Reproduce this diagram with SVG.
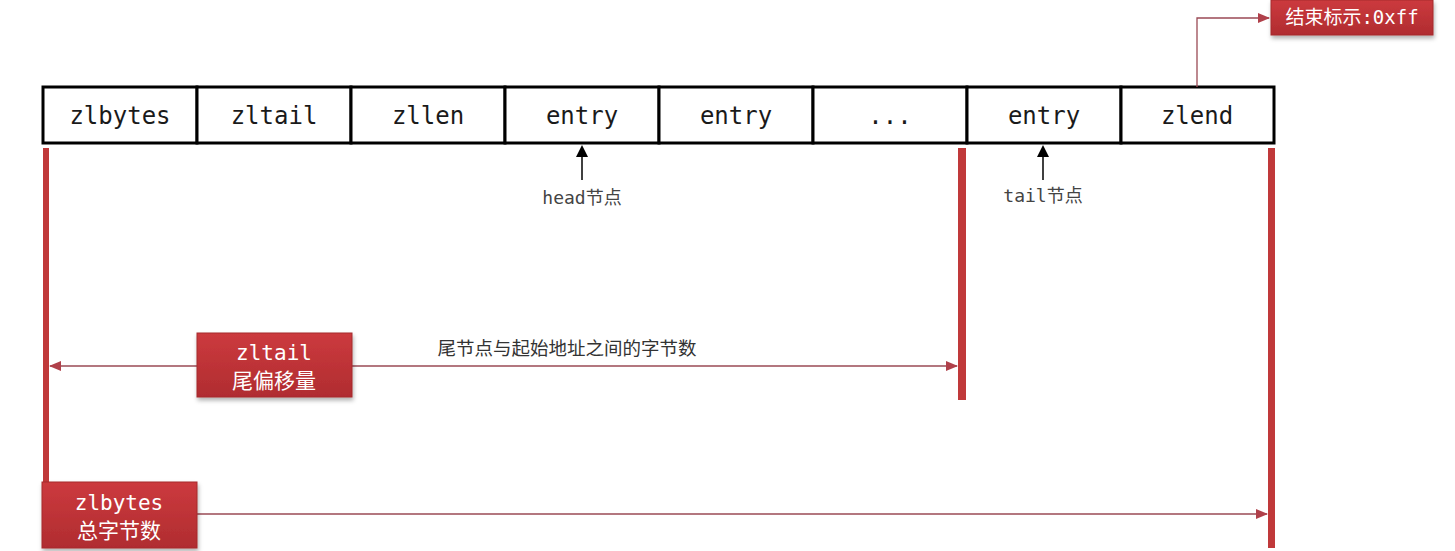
<svg xmlns="http://www.w3.org/2000/svg" width="1455" height="551" viewBox="0 0 1455 551">
<defs>
<style>
.cell{fill:#fff;stroke:#000;stroke-width:3}
.mono{font-family:"DejaVu Sans Mono","Liberation Mono","Noto Sans CJK SC",monospace}
.ct{font-size:24px;fill:#1a1a1a;text-anchor:middle}
.sm{font-size:18px;fill:#444;text-anchor:middle}
.rb{fill:#c43438;stroke:#a52a2c;stroke-width:1}
.bar{fill:#c0393a}
.wt{font-size:21px;fill:#fff;text-anchor:middle}
.conn{stroke:#9a4a55;stroke-width:1.3;fill:none}
.blk{stroke:#000;stroke-width:1.5;fill:none}
</style>
<linearGradient id="rg" x1="0" y1="0" x2="0" y2="1"><stop offset="0" stop-color="#cc3a3e"/><stop offset="1" stop-color="#b02c30"/></linearGradient>
<marker id="ra" markerWidth="12" markerHeight="10" refX="11" refY="5" orient="auto" markerUnits="userSpaceOnUse"><path d="M0,0 L12,5 L0,10 Z" fill="#b0404a"/></marker>
<marker id="bk" markerWidth="12" markerHeight="12" refX="10" refY="6" orient="auto" markerUnits="userSpaceOnUse"><path d="M0,0 L12,6 L0,12 Z" fill="#000"/></marker>
<filter id="sh" x="-10%" y="-10%" width="130%" height="140%"><feDropShadow dx="1" dy="3" stdDeviation="2" flood-color="#000" flood-opacity="0.3"/></filter>
</defs>
<rect width="1455" height="551" fill="#fff"/>
<g id="bars">
<rect class="bar" x="43" y="148" width="6" height="340"/>
<rect class="bar" x="958" y="148" width="8" height="252"/>
<rect class="bar" x="1268" y="148" width="7" height="400"/>
</g>
<g id="row">
<g id="n-zlbytes"><rect class="cell" x="43" y="87" width="154" height="56"/><text class="mono ct" x="120" y="124">zlbytes</text></g>
<g id="n-zltail"><rect class="cell" x="197" y="87" width="154" height="56"/><text class="mono ct" x="274" y="124">zltail</text></g>
<g id="n-zllen"><rect class="cell" x="351" y="87" width="154" height="56"/><text class="mono ct" x="428" y="124">zllen</text></g>
<g id="n-entry1"><rect class="cell" x="505" y="87" width="154" height="56"/><text class="mono ct" x="582" y="124">entry</text></g>
<g id="n-entry2"><rect class="cell" x="659" y="87" width="154" height="56"/><text class="mono ct" x="736" y="124">entry</text></g>
<g id="n-dots"><rect class="cell" x="813" y="87" width="154" height="56"/><text class="mono ct" x="890" y="124">...</text></g>
<g id="n-entry3"><rect class="cell" x="967" y="87" width="154" height="56"/><text class="mono ct" x="1044" y="124">entry</text></g>
<g id="n-zlend"><rect class="cell" x="1121" y="87" width="153" height="56"/><text class="mono ct" x="1197" y="124">zlend</text></g>
</g>
<g id="connectors">
<line class="blk" x1="582" y1="180" x2="582" y2="147" marker-end="url(#bk)"/>
<line class="blk" x1="1043" y1="180" x2="1043" y2="147" marker-end="url(#bk)"/>
<polyline class="conn" points="1197,87 1197,18 1269,18" marker-end="url(#ra)"/>
<line class="conn" x1="197" y1="366" x2="50" y2="366" marker-end="url(#ra)"/>
<line class="conn" x1="352" y1="366" x2="957" y2="366" marker-end="url(#ra)"/>
<line class="conn" x1="197" y1="514" x2="1267" y2="514" marker-end="url(#ra)"/>
</g>
<g id="labels">
<text class="mono sm" x="582" y="204">head<tspan style="font-family:'Noto Sans CJK SC',sans-serif">节点</tspan></text>
<text class="mono sm" x="1043" y="202">tail<tspan style="font-family:'Noto Sans CJK SC',sans-serif">节点</tspan></text>
<text x="567" y="355" style="font-family:'Noto Sans CJK SC',sans-serif;font-size:18.5px;fill:#333;text-anchor:middle">尾节点与起始地址之间的字节数</text>
</g>
<g id="n-end">
<rect class="rb" x="1271" y="0" width="162" height="35" style="fill:url(#rg)" filter="url(#sh)"/>
<text class="mono wt" x="1352" y="24" style="font-size:19px">结束标示:0xff</text>
</g>
<g id="n-zltail-offset">
<rect class="rb" x="197" y="333" width="155" height="64" style="fill:url(#rg)" filter="url(#sh)"/>
<text class="mono wt" x="274" y="360">zltail</text>
<text class="wt" x="274" y="388" style="font-family:'Noto Sans CJK SC',sans-serif">尾偏移量</text>
</g>
<g id="n-zlbytes-total">
<rect class="rb" x="42" y="482" width="155" height="66" style="fill:url(#rg)" filter="url(#sh)"/>
<text class="mono wt" x="119" y="510">zlbytes</text>
<text class="wt" x="119" y="538" style="font-family:'Noto Sans CJK SC',sans-serif">总字节数</text>
</g>
</svg>
